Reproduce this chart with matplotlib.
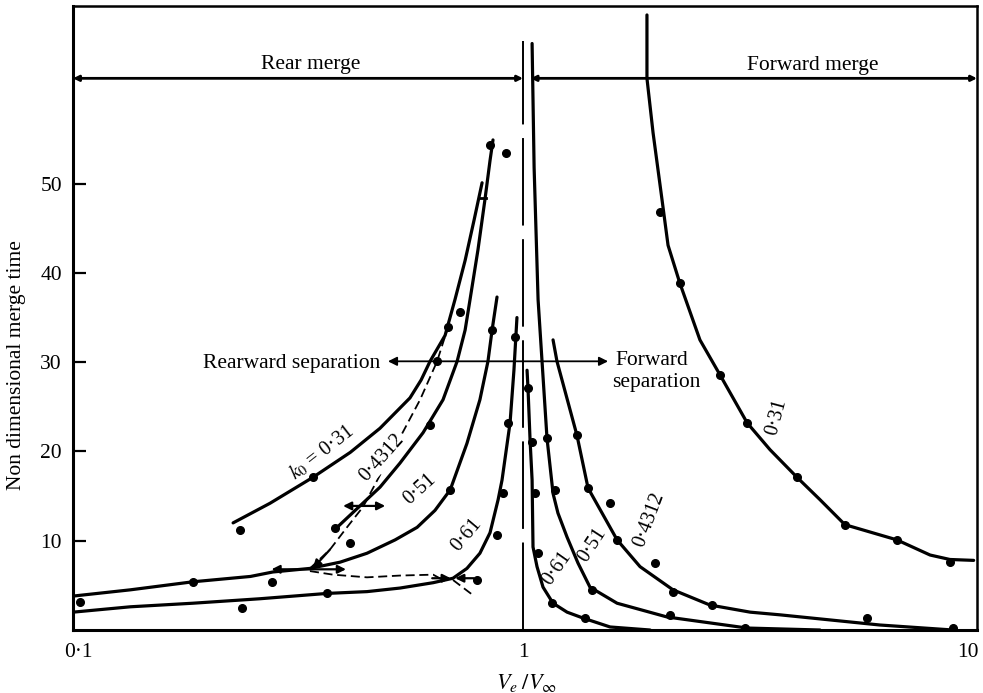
import matplotlib
matplotlib.use('Agg')
import matplotlib.pyplot as plt

plt.rcParams['font.family'] = ['Liberation Serif', 'DejaVu Serif']
plt.rcParams['mathtext.fontset'] = 'stix'

# ---------------- data ----------------
# rear-merge branches (Ve/Vinf < 1)
rear_031_x = [0.223, 0.270, 0.337, 0.409, 0.477, 0.557, 0.590, 0.618, 0.668, 0.703, 0.741, 0.776, 0.809]
rear_031_y = [12.0, 14.2, 17.1, 19.9, 22.6, 26.0, 28.0, 30.1, 33.0, 37.0, 41.4, 45.9, 50.1]
rear_04312_x = [0.382, 0.430, 0.477, 0.529, 0.596, 0.661, 0.711, 0.741, 0.760, 0.792, 0.821, 0.843, 0.856]
rear_04312_y = [11.5, 13.9, 16.0, 18.7, 22.1, 25.8, 30.1, 33.6, 37.0, 42.6, 48.2, 52.6, 54.9]
rear_051_x = [0.0974, 0.131, 0.181, 0.244, 0.274, 0.332, 0.388, 0.446, 0.516, 0.578, 0.634, 0.686, 0.748, 0.800, 0.834, 0.852, 0.874]
rear_051_y = [3.8, 4.5, 5.4, 6.0, 6.5, 6.9, 7.6, 8.6, 10.1, 11.5, 13.4, 15.7, 20.9, 25.8, 30.1, 33.6, 37.3]
rear_061_x = [0.0974, 0.131, 0.181, 0.256, 0.363, 0.446, 0.529, 0.628, 0.696, 0.748, 0.800, 0.843, 0.879, 0.897, 0.935, 0.954, 0.969]
rear_061_y = [2.0, 2.6, 3.0, 3.5, 4.1, 4.3, 4.7, 5.3, 5.8, 6.9, 8.6, 10.9, 14.6, 16.8, 23.2, 29.1, 35.0]

# forward-merge branches (Ve/Vinf > 1)
fwd_061_x = [1.021, 1.026, 1.037, 1.048, 1.053, 1.075, 1.109, 1.168, 1.256, 1.364, 1.569, 1.93]
fwd_061_y = [29.1, 27.1, 21.3, 16.8, 9.3, 7.1, 4.8, 3.0, 2.0, 1.34, 0.34, 0.0]
fwd_051_x = [1.048, 1.059, 1.081, 1.103, 1.132, 1.168, 1.198, 1.256, 1.329, 1.414, 1.627, 2.107, 3.19, 4.65]
fwd_051_y = [65.7, 51.8, 37.0, 30.2, 21.5, 15.3, 13.1, 10.4, 7.5, 4.8, 3.0, 1.46, 0.22, 0.0]
fwd_04312_x = [1.168, 1.192, 1.322, 1.40, 1.627, 1.832, 2.173, 2.63, 3.24, 3.78, 6.34, 9.25]
fwd_04312_y = [32.5, 30.1, 21.8, 15.9, 10.1, 7.1, 4.5, 2.8, 2.0, 1.7, 0.56, 0.0]
fwd_031_x = [1.899, 1.899, 1.96, 2.053, 2.118, 2.25, 2.498, 2.77, 3.19, 3.59, 4.13, 4.65, 5.29, 6.92, 8.22, 9.11, 10.3]
fwd_031_y = [68.9, 61.8, 55.7, 48.2, 43.1, 38.9, 32.5, 28.6, 23.2, 20.2, 17.1, 14.6, 11.8, 10.1, 8.4, 7.9, 7.8]

# experimental points
rear_pts_x = [0.231, 0.337, 0.678, 0.722, 0.378, 0.408, 0.618, 0.641, 0.843, 0.916,
              0.686, 0.852, 0.273, 0.181, 0.101, 0.234, 0.363, 0.788, 0.874, 0.902, 0.925, 0.959]
rear_pts_y = [11.2, 17.1, 33.9, 35.6, 11.4, 9.7, 23.0, 30.1, 54.3, 53.4,
              15.7, 33.6, 5.4, 5.4, 3.1, 2.5, 4.1, 5.6, 10.6, 15.3, 23.2, 32.8]
fwd_pts_x = [2.03, 2.25, 2.77, 3.19, 4.13, 5.29, 6.92, 9.11,
             1.322, 1.40, 1.569, 1.627, 1.98, 2.173, 2.66, 5.93, 9.25,
             1.132, 1.18, 1.43, 2.14, 3.15,
             1.026, 1.048, 1.064, 1.081, 1.162, 1.378]
fwd_pts_y = [46.8, 38.9, 28.6, 23.2, 17.1, 11.8, 10.1, 7.6,
             21.8, 15.9, 14.2, 10.1, 7.5, 4.3, 2.8, 1.3, 0.2,
             21.5, 15.7, 4.5, 1.7, 0.2,
             27.1, 21.1, 15.3, 8.6, 3.0, 1.3]

# dashed transition paths
dash1_x = [0.332, 0.368, 0.402, 0.437, 0.540, 0.587, 0.641, 0.675]
dash1_y = [6.9, 9.0, 11.5, 13.8, 22.4, 25.8, 30.1, 33.6]
dash2_x = [0.332, 0.374, 0.446, 0.529, 0.628, 0.661]
dash2_y = [6.6, 6.2, 5.9, 6.1, 6.2, 5.6]
dash3_x = [0.696, 0.772]
dash3_y = [5.6, 3.9]

xticks = [0.1, 1, 10]
xticklabels = ['0·1', '1', '10']
yticks = [10, 20, 30, 40, 50]

merge_y = 61.8
sep_y = 30.1

FS = 15.5

# ---------------- figure ----------------
fig = plt.figure(figsize=(9.83, 6.93), dpi=100)
ax = fig.add_axes([0.0743, 0.0909, 0.9196, 0.9004])
ax.set_xscale('log')
ax.set_xlim(0.0974, 10.48)
ax.set_ylim(0, 69.9)

lw = 2.3
for xs, ys in [(rear_031_x, rear_031_y), (rear_04312_x, rear_04312_y),
               (rear_051_x, rear_051_y), (rear_061_x, rear_061_y),
               (fwd_061_x, fwd_061_y), (fwd_051_x, fwd_051_y),
               (fwd_04312_x, fwd_04312_y), (fwd_031_x, fwd_031_y)]:
    ax.plot(xs, ys, color='black', lw=lw, solid_capstyle='round', solid_joinstyle='round')

ax.plot(rear_pts_x + fwd_pts_x, rear_pts_y + fwd_pts_y, 'o', color='black', ms=5.5, ls='none')

for xs, ys in [(dash1_x, dash1_y), (dash2_x, dash2_y), (dash3_x, dash3_y)]:
    ax.plot(xs, ys, color='black', lw=1.3, dashes=(5, 2.6))

# vertical dashed line at Ve/Vinf = 1
ax.plot([1, 1], [0, 66], color='black', lw=1.4, dashes=(45, 7))

# small connector mark near the top of rear curves
ax.plot([0.800, 0.826], [48.4, 48.4], color='black', lw=2.0)

# arrows on the transition paths
arr = dict(arrowstyle='-|>', color='black', lw=1.6, mutation_scale=12, shrinkA=0, shrinkB=0)
ax.annotate('', xy=(0.394, 13.9), xytext=(0.437, 13.9), arrowprops=arr)
ax.annotate('', xy=(0.490, 13.9), xytext=(0.437, 13.9), arrowprops=arr)
ax.annotate('', xy=(0.272, 6.8), xytext=(0.332, 6.8), arrowprops=arr)
ax.annotate('', xy=(0.40, 6.8), xytext=(0.332, 6.8), arrowprops=arr)
ax.annotate('', xy=(0.337, 6.9), xytext=(0.368, 9.0), arrowprops=arr)
ax.annotate('', xy=(0.688, 5.8), xytext=(0.625, 5.8), arrowprops=arr)
ax.annotate('', xy=(0.704, 5.8), xytext=(0.775, 5.8), arrowprops=arr)

# merge header line
harr = dict(arrowstyle='<|-|>', color='black', lw=2.0, mutation_scale=8, shrinkA=0, shrinkB=0)
ax.annotate('', xy=(0.0974, merge_y), xytext=(1.0, merge_y), arrowprops=harr, annotation_clip=False)
ax.annotate('', xy=(1.04, merge_y), xytext=(10.48, merge_y), arrowprops=harr, annotation_clip=False)
ax.text(0.334, 62.9, 'Rear merge', ha='center', va='baseline', fontsize=FS)
ax.text(4.48, 62.7, 'Forward merge', ha='center', va='baseline', fontsize=FS)

# separation arrow
sarr = dict(arrowstyle='<|-|>', color='black', lw=1.3, mutation_scale=13, shrinkA=0, shrinkB=0)
ax.annotate('', xy=(0.497, sep_y), xytext=(1.553, sep_y), arrowprops=sarr)
ax.text(0.477, 29.3, 'Rearward separation', ha='right', va='baseline', fontsize=FS)
ax.text(1.61, 29.7, 'Forward', ha='left', va='baseline', fontsize=FS)
ax.text(1.585, 27.2, 'separation', ha='left', va='baseline', fontsize=FS)

# curve labels
lab = dict(ha='center', va='center', fontsize=14.5, rotation_mode='anchor')
wb = dict(facecolor='white', edgecolor='none', pad=0.5)
ax.text(0.353, 19.9, r'$k_0$ = 0·31', rotation=38, **lab)
ax.text(0.482, 19.3, '0·4312', rotation=48, bbox=wb, zorder=5, **lab)
ax.text(0.587, 15.7, '0·51', rotation=42, **lab)
ax.text(0.748, 10.6, '0·61', rotation=50, **lab)
ax.text(3.72, 23.9, '0·31', rotation=75, **lab)
ax.text(1.919, 12.4, '0·4312', rotation=69, **lab)
ax.text(1.43, 9.5, '0·51', rotation=57, **lab)
ax.text(1.192, 6.9, '0·61', rotation=55, **lab)

# axes styling
for s in ['left', 'bottom']:
    ax.spines[s].set_linewidth(2.2)
for s in ['top', 'right']:
    ax.spines[s].set_linewidth(1.8)

ax.set_xticks(xticks)
ax.set_xticklabels(xticklabels, fontsize=FS)
ax.xaxis.set_minor_locator(plt.NullLocator())
ax.tick_params(axis='x', length=0, pad=9)
ax.set_yticks(yticks)
ax.set_yticklabels([str(v) for v in yticks], fontsize=FS)
ax.tick_params(axis='y', direction='in', length=9, width=1.6, pad=8)

ax.text(0.502, -0.085, r'$V_e\;/V_\infty$', transform=ax.transAxes, ha='center', va='center', fontsize=16)
ax.text(-0.063, 0.425, 'Non dimensional merge time', transform=ax.transAxes, rotation=90,
        ha='center', va='center', fontsize=FS)

fig.savefig('out.png', dpi=100)
